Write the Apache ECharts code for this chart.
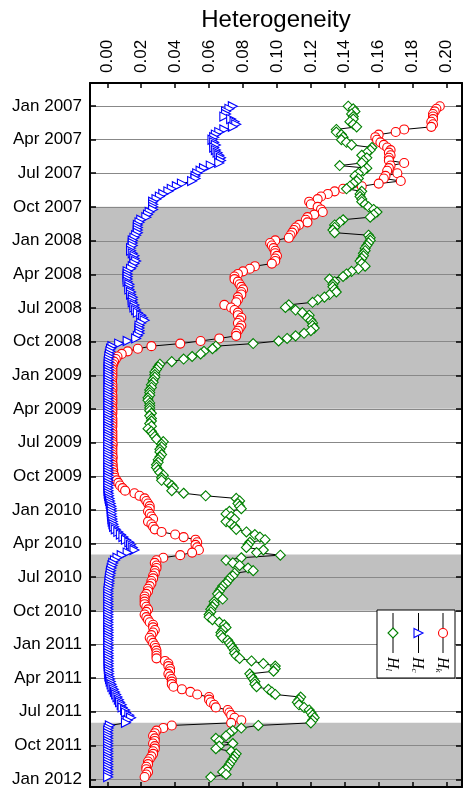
<!DOCTYPE html>
<html>
<head>
<meta charset="utf-8">
<script src="https://cdn.jsdelivr.net/npm/echarts@6/dist/echarts.min.js"></script>
<style>
  html, body { margin: 0; background: #fff; }
  #chart { width: 469px; height: 792px; }
</style>
</head>
<body>
<div id="chart"></div>
<script>
// weekly samples, starting the first week of 2007
const startDate = [2007, 0, 1];

// H_k (red circles)
const hk = [
  0.196, 0.194, 0.193, 0.192, 0.192, 0.192, 0.191, 0.192, 0.191, 0.175,
  0.170, 0.160, 0.158, 0.159, 0.161, 0.163, 0.165, 0.167, 0.166, 0.167,
  0.166, 0.166, 0.175, 0.167, 0.166, 0.165, 0.171, 0.164, 0.163, 0.173,
  0.160, 0.150, 0.139, 0.134, 0.130, 0.126, 0.124, 0.119, 0.120, 0.124,
  0.126, 0.127, 0.122, 0.118, 0.117, 0.118, 0.113, 0.111, 0.110, 0.109,
  0.108, 0.107, 0.099, 0.096, 0.097, 0.098, 0.099, 0.099, 0.100, 0.099,
  0.099, 0.097, 0.087, 0.084, 0.080, 0.077, 0.075, 0.075, 0.077, 0.078,
  0.079, 0.080, 0.079, 0.079, 0.077, 0.077, 0.076, 0.069, 0.073, 0.075,
  0.077, 0.077, 0.079, 0.078, 0.077, 0.079, 0.078, 0.077, 0.076, 0.076,
  0.066, 0.055, 0.043, 0.026, 0.018, 0.012, 0.0085, 0.006, 0.005, 0.004,
  0.0035, 0.003, 0.003, 0.003, 0.003, 0.003, 0.0028, 0.0028, 0.003, 0.003,
  0.003, 0.0028, 0.003, 0.003, 0.003, 0.003, 0.0028, 0.003, 0.003, 0.003,
  0.0028, 0.003, 0.003, 0.003, 0.003, 0.0028, 0.003, 0.003, 0.003, 0.003,
  0.003, 0.0032, 0.003, 0.003, 0.003, 0.003, 0.0032, 0.003, 0.003, 0.0032,
  0.0032, 0.0035, 0.0035, 0.004, 0.0045, 0.0055, 0.0065, 0.0075, 0.009, 0.0105,
  0.016, 0.019, 0.022, 0.023, 0.024, 0.025, 0.025, 0.024, 0.025, 0.026,
  0.027, 0.024, 0.026, 0.027, 0.028, 0.032, 0.040, 0.045, 0.052, 0.053,
  0.052, 0.053, 0.054, 0.050, 0.043, 0.033, 0.029, 0.028, 0.029, 0.029,
  0.028, 0.028, 0.027, 0.027, 0.026, 0.026, 0.025, 0.024, 0.024, 0.023,
  0.022, 0.022, 0.022, 0.022, 0.023, 0.024, 0.023, 0.022, 0.023, 0.024,
  0.025, 0.027, 0.027, 0.028, 0.027, 0.026, 0.025, 0.026, 0.027, 0.028,
  0.0285, 0.029, 0.029, 0.029, 0.029, 0.034, 0.036, 0.036, 0.037, 0.037,
  0.036, 0.037, 0.038, 0.038, 0.038, 0.039, 0.044, 0.049, 0.053, 0.060,
  0.060, 0.061, 0.063, 0.064, 0.071, 0.072, 0.073, 0.075, 0.079, 0.073,
  0.038, 0.033, 0.029, 0.028, 0.027, 0.028, 0.028, 0.027, 0.028, 0.028,
  0.027, 0.027, 0.026, 0.025, 0.024, 0.024, 0.023, 0.023, 0.024, 0.023, 0.022
];

// H_c (blue triangles)
const hc = [
  0.074, 0.072, 0.070, 0.070, 0.069, 0.073, 0.075, 0.076, 0.074, 0.069,
  0.066, 0.064, 0.063, 0.062, 0.063, 0.064, 0.063, 0.064, 0.065, 0.066,
  0.067, 0.067, 0.066, 0.061, 0.057, 0.055, 0.053, 0.052, 0.052, 0.050,
  0.044, 0.041, 0.038, 0.036, 0.033, 0.031, 0.029, 0.027, 0.027, 0.027,
  0.027, 0.025, 0.024, 0.023, 0.020, 0.019, 0.018, 0.018, 0.018, 0.018,
  0.017, 0.016, 0.015, 0.015, 0.015, 0.014, 0.014, 0.015, 0.016, 0.016,
  0.017, 0.016, 0.015, 0.014, 0.012, 0.012, 0.012, 0.012, 0.012, 0.013,
  0.013, 0.013, 0.014, 0.014, 0.015, 0.015, 0.015, 0.016, 0.016, 0.017,
  0.018, 0.020, 0.021, 0.022, 0.020, 0.019, 0.019, 0.019, 0.019, 0.018,
  0.017, 0.012, 0.007, 0.003, 0.0022, 0.0018, 0.0015, 0.0012, 0.001, 0.0008,
  0.0008, 0.0008, 0.0008, 0.0008, 0.0008, 0.0008, 0.0008, 0.0008, 0.0008, 0.0008,
  0.0007, 0.0007, 0.0007, 0.0007, 0.0007, 0.0007, 0.0007, 0.0007, 0.0007, 0.0007,
  0.0007, 0.0007, 0.0007, 0.0007, 0.0007, 0.0007, 0.0007, 0.0007, 0.0007, 0.0007,
  0.0006, 0.0006, 0.0006, 0.0006, 0.0006, 0.0006, 0.0006, 0.0006, 0.0006, 0.0006,
  0.0007, 0.0007, 0.0007, 0.0007, 0.0007, 0.0007, 0.0007, 0.0007, 0.0007, 0.0007,
  0.0008, 0.001, 0.0013, 0.0016, 0.002, 0.0024, 0.0026, 0.0026, 0.0027, 0.0028,
  0.003, 0.0032, 0.0036, 0.004, 0.005, 0.0065, 0.008, 0.0095, 0.011, 0.013,
  0.014, 0.015, 0.016, 0.012, 0.0085, 0.006, 0.0045, 0.0035, 0.003, 0.0026,
  0.0022, 0.002, 0.0017, 0.0015, 0.0013, 0.0012, 0.001, 0.0008, 0.0006, 0.0006,
  0.0006, 0.0006, 0.0006, 0.0006, 0.0006, 0.0006, 0.0006, 0.0006, 0.0006, 0.0006,
  0.0006, 0.0006, 0.0006, 0.0007, 0.0007, 0.0007, 0.0007, 0.0007, 0.0007, 0.0007,
  0.0007, 0.0007, 0.0007, 0.0008, 0.0008, 0.0008, 0.0008, 0.0008, 0.0009, 0.001,
  0.001, 0.0012, 0.0016, 0.002, 0.0025, 0.003, 0.0038, 0.0045, 0.0052, 0.006,
  0.0068, 0.0075, 0.0085, 0.009, 0.0105, 0.011, 0.013, 0.014, 0.012, 0.011,
  0.0015, 0.0008, 0.0005, 0.0005, 0.0005, 0.0005, 0.0005, 0.0005, 0.0005, 0.0005,
  0.0005, 0.0005, 0.0005, 0.0005, 0.0005, 0.0005, 0.0005, 0.0005, 0.0005, 0.0005, 0.0005
];

// H_l (green diamonds)
const hl = [
  0.142, 0.145, 0.146, 0.144, 0.145, 0.145, 0.143, 0.145, 0.147, 0.135,
  0.135, 0.138, 0.139, 0.138, 0.141, 0.144, 0.156, 0.155, 0.153, 0.150,
  0.153, 0.151, 0.150, 0.137, 0.153, 0.151, 0.148, 0.146, 0.148, 0.147,
  0.145, 0.143, 0.141, 0.150, 0.149, 0.149, 0.150, 0.150, 0.152, 0.154,
  0.157, 0.159, 0.157, 0.155, 0.139, 0.137, 0.134, 0.134, 0.133, 0.134,
  0.154, 0.155, 0.155, 0.154, 0.153, 0.152, 0.152, 0.151, 0.151, 0.150,
  0.149, 0.150, 0.152, 0.148, 0.144, 0.141, 0.139, 0.131, 0.134, 0.133,
  0.133, 0.134, 0.135, 0.131, 0.128, 0.124, 0.121, 0.107, 0.105, 0.111,
  0.115, 0.119, 0.118, 0.120, 0.121, 0.121, 0.122, 0.120, 0.116, 0.111,
  0.106, 0.101, 0.086, 0.064, 0.062, 0.057, 0.055, 0.050, 0.045, 0.038,
  0.031, 0.030, 0.029, 0.028, 0.028, 0.028, 0.027, 0.027, 0.026, 0.026,
  0.025, 0.025, 0.025, 0.024, 0.024, 0.025, 0.025, 0.025, 0.025, 0.026,
  0.025, 0.026, 0.026, 0.025, 0.026, 0.024, 0.026, 0.027, 0.028, 0.029,
  0.033, 0.032, 0.032, 0.031, 0.031, 0.032, 0.031, 0.030, 0.030, 0.029,
  0.029, 0.030, 0.031, 0.033, 0.032, 0.032, 0.036, 0.038, 0.039, 0.038,
  0.045, 0.058, 0.076, 0.078, 0.077, 0.078, 0.079, 0.072, 0.070, 0.073,
  0.075, 0.070, 0.073, 0.075, 0.076, 0.082, 0.087, 0.090, 0.093, 0.084,
  0.083, 0.082, 0.092, 0.088, 0.102, 0.079, 0.070, 0.074, 0.078, 0.083,
  0.086, 0.075, 0.074, 0.072, 0.071, 0.070, 0.068, 0.067, 0.066, 0.065,
  0.066, 0.068, 0.063, 0.063, 0.062, 0.061, 0.061, 0.060, 0.060, 0.062,
  0.066, 0.069, 0.070, 0.068, 0.067, 0.067, 0.068, 0.071, 0.072, 0.073,
  0.074, 0.075, 0.075, 0.076, 0.078, 0.085, 0.092, 0.099, 0.099, 0.098,
  0.084, 0.085, 0.086, 0.087, 0.087, 0.088, 0.095, 0.097, 0.099, 0.114,
  0.113, 0.112, 0.113, 0.116, 0.119, 0.120, 0.121, 0.122, 0.121, 0.120,
  0.089, 0.079, 0.074, 0.072, 0.070, 0.064, 0.066, 0.074, 0.066, 0.064,
  0.073, 0.076, 0.075, 0.074, 0.073, 0.072, 0.071, 0.070, 0.068, 0.070, 0.061
];

// axis ticks
const xTickValues = [0, 0.02, 0.04, 0.06, 0.08, 0.10, 0.12, 0.14, 0.16, 0.18, 0.20];
const xTickLabels = ['0.00', '0.02', '0.04', '0.06', '0.08', '0.10', '0.12', '0.14', '0.16', '0.18', '0.20'];
const quarterDates = [
  '2007-01-01', '2007-04-01', '2007-07-01', '2007-10-01',
  '2008-01-01', '2008-04-01', '2008-07-01', '2008-10-01',
  '2009-01-01', '2009-04-01', '2009-07-01', '2009-10-01',
  '2010-01-01', '2010-04-01', '2010-07-01', '2010-10-01',
  '2011-01-01', '2011-04-01', '2011-07-01', '2011-10-01',
  '2012-01-01'
];
const quarterLabels = [
  'Jan 2007', 'Apr 2007', 'Jul 2007', 'Oct 2007',
  'Jan 2008', 'Apr 2008', 'Jul 2008', 'Oct 2008',
  'Jan 2009', 'Apr 2009', 'Jul 2009', 'Oct 2009',
  'Jan 2010', 'Apr 2010', 'Jul 2010', 'Oct 2010',
  'Jan 2011', 'Apr 2011', 'Jul 2011', 'Oct 2011',
  'Jan 2012'
];
// grey shaded periods
const shadedPeriods = [
  ['2007-10-01', '2009-04-01'],
  ['2010-05-01', '2010-10-01'],
  ['2011-08-01', '2012-01-22']
];

function toTime(s) {
  const p = s.split('-').map(Number);
  return new Date(p[0], p[1] - 1, p[2]).getTime();
}

const weekTimes = hk.map((_, i) => new Date(startDate[0], startDate[1], startDate[2] + 7 * i).getTime());
const quarterTimes = quarterDates.map(toTime);
const yMin = toTime('2006-10-30');
const yMax = toTime('2012-01-22');
const xMin = -0.0102;
const xMax = 0.2091;

const chart = echarts.init(document.getElementById('chart'));
const FONT = 'Liberation Sans';

function lineSeries(name, values, symbol, size, color, rotate, extra) {
  return Object.assign({
    name: name,
    type: 'line',
    data: values.map((v, i) => [v, weekTimes[i]]),
    symbol: symbol,
    symbolSize: size,
    symbolRotate: rotate,
    showAllSymbol: true,
    lineStyle: { color: '#000', width: 1 },
    itemStyle: { color: '#fff', borderColor: color, borderWidth: 1.1 },
    z: 2,
    silent: true
  }, extra || {});
}

const tickStyle = { lineStyle: { color: '#000', width: 1.5 } };
const axisLineStyle = { show: true, onZero: false, lineStyle: { color: '#000', width: 2 } };

const legendCols = [
  { x: 393, color: '#008000', label: '{h|H}{s|l}' },
  { x: 418.5, color: '#0000ff', label: '{h|H}{s|c}' },
  { x: 443, color: '#ff0000', label: '{h|H}{s|k}' }
];

const legendEls = [{
  type: 'rect', z: 100,
  shape: { x: 377, y: 610, width: 78, height: 68 },
  style: { fill: '#fff', stroke: '#000', lineWidth: 1 }
}];
legendCols.forEach((c, k) => {
  legendEls.push({
    type: 'line', z: 100,
    shape: { x1: c.x, y1: 613, x2: c.x, y2: 653 },
    style: { stroke: '#000', lineWidth: 1 }
  });
  let marker;
  if (k === 0) {
    marker = { type: 'polygon', shape: { points: [[c.x, 628], [c.x + 5, 633], [c.x, 638], [c.x - 5, 633]] } };
  } else if (k === 1) {
    marker = { type: 'polygon', shape: { points: [[c.x - 4.5, 628.5], [c.x + 4.5, 633], [c.x - 4.5, 637.5]] } };
  } else {
    marker = { type: 'circle', shape: { cx: c.x, cy: 633, r: 4.5 } };
  }
  marker.z = 101;
  marker.style = { fill: '#fff', stroke: c.color, lineWidth: 1.1 };
  legendEls.push(marker);
  legendEls.push({
    type: 'text', z: 101,
    x: c.x, y: 657,
    rotation: -Math.PI / 2,
    style: {
      text: c.label,
      align: 'left',
      verticalAlign: 'middle',
      fill: '#000',
      rich: {
        h: { fontFamily: 'Liberation Serif', fontStyle: 'italic', fontSize: 16, lineHeight: 18, verticalAlign: 'bottom' },
        s: { fontFamily: 'Liberation Serif', fontStyle: 'italic', fontSize: 9, lineHeight: 18, verticalAlign: 'bottom', padding: [6, 0, 0, 0] }
      }
    }
  });
});

const option = {
  animation: false,
  textStyle: { fontFamily: FONT },
  grid: { left: 90, right: 7, top: 83, bottom: 5, outerBoundsMode: 'none' },
  xAxis: [
    {
      type: 'value', position: 'top', min: xMin, max: xMax, z: 1,
      name: 'Heterogeneity', nameLocation: 'middle', nameGap: 50,
      nameTextStyle: { fontSize: 24, color: '#000', fontFamily: FONT },
      axisLine: axisLineStyle,
      axisTick: Object.assign({ inside: true, length: 5, customValues: xTickValues }, tickStyle),
      axisLabel: {
        customValues: xTickValues, rotate: -90, margin: 10, fontSize: 17, color: '#000',
        formatter: v => {
          const k = xTickValues.findIndex(t => Math.abs(t - v) < 1e-9);
          return k >= 0 ? xTickLabels[k] : '';
        }
      },
      splitLine: { show: false }
    },
    {
      type: 'value', position: 'bottom', min: xMin, max: xMax, z: 1,
      axisLine: axisLineStyle,
      axisTick: Object.assign({ inside: true, length: 5, customValues: xTickValues }, tickStyle),
      axisLabel: { show: false },
      splitLine: { show: false }
    }
  ],
  yAxis: [
    {
      type: 'value', position: 'left', inverse: true, min: yMin, max: yMax, z: 1,
      axisLine: axisLineStyle,
      axisTick: Object.assign({ inside: true, length: 6, customValues: quarterTimes }, tickStyle),
      axisLabel: {
        customValues: quarterTimes, margin: 8, fontSize: 17, color: '#000',
        formatter: v => {
          const k = quarterTimes.indexOf(v);
          return k >= 0 ? quarterLabels[k] : '';
        }
      },
      splitLine: { show: true, lineStyle: { color: '#888', width: 1 } }
    },
    {
      type: 'value', position: 'right', inverse: true, min: yMin, max: yMax, z: 1,
      axisLine: axisLineStyle,
      axisTick: Object.assign({ inside: true, length: 6, customValues: quarterTimes }, tickStyle),
      axisLabel: { show: false },
      splitLine: { show: false }
    }
  ],
  series: [
    lineSeries('H_k', hk, 'circle', 9, '#ff0000', 0, {
      markArea: {
        silent: true,
        z: 0,
        itemStyle: { color: '#c0c0c0' },
        data: shadedPeriods.map(p => [{ yAxis: toTime(p[0]) }, { yAxis: toTime(p[1]) }])
      }
    }),
    lineSeries('H_c', hc, 'triangle', 9, '#0000ff', -90),
    lineSeries('H_l', hl, 'diamond', 10, '#008000', 0)
  ],
  graphic: { elements: legendEls }
};

chart.setOption(option);
</script>
</body>
</html>
